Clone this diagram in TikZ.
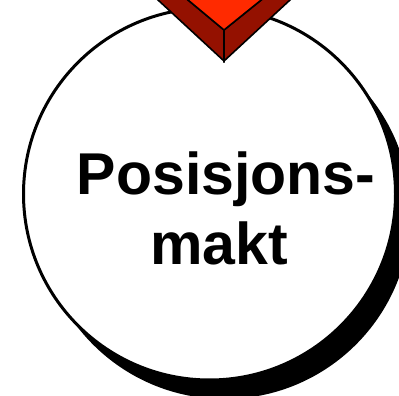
\documentclass[tikz,border=0pt]{standalone}
\usepackage{fontspec}
\setmainfont{Liberation Sans}
\usetikzlibrary{shadows}
\definecolor{arrowfront}{HTML}{FF2A00}
\definecolor{arrowside}{HTML}{941100}
\begin{document}
\begin{tikzpicture}[x=1pt,y=-1pt,
  ring/.style={circle, draw=black, line width=3pt, fill=white, minimum size=372pt, inner sep=0pt,
    drop shadow={shadow xshift=15pt, shadow yshift=-19pt, fill=black, opacity=1}},
  face/.style={draw=black, line width=1.6pt, line join=miter},
  label/.style={font=\bfseries\fontsize{59}{70}\selectfont, align=center, inner sep=0pt}]
\useasboundingbox (0,0) rectangle (399,396);
\clip (0,0) rectangle (399,396);
\node[ring] (c) at (209.5,194) {};
% 3D arrow head
\coordinate (tip) at (224,61);
\coordinate (mid) at (224,30);
\fill[arrowside, face] (136.4,-20) -- (tip) -- (mid) -- (164,-20) -- cycle;
\fill[arrowside, face] (311.6,-20) -- (tip) -- (mid) -- (286,-20) -- cycle;
\fill[arrowfront, face] (164,-20) -- (mid) -- (286,-20) -- cycle;
\node[label] (t) at (226,208) {Posisjons-\\\hspace*{-14pt}makt};
\end{tikzpicture}
\end{document}
